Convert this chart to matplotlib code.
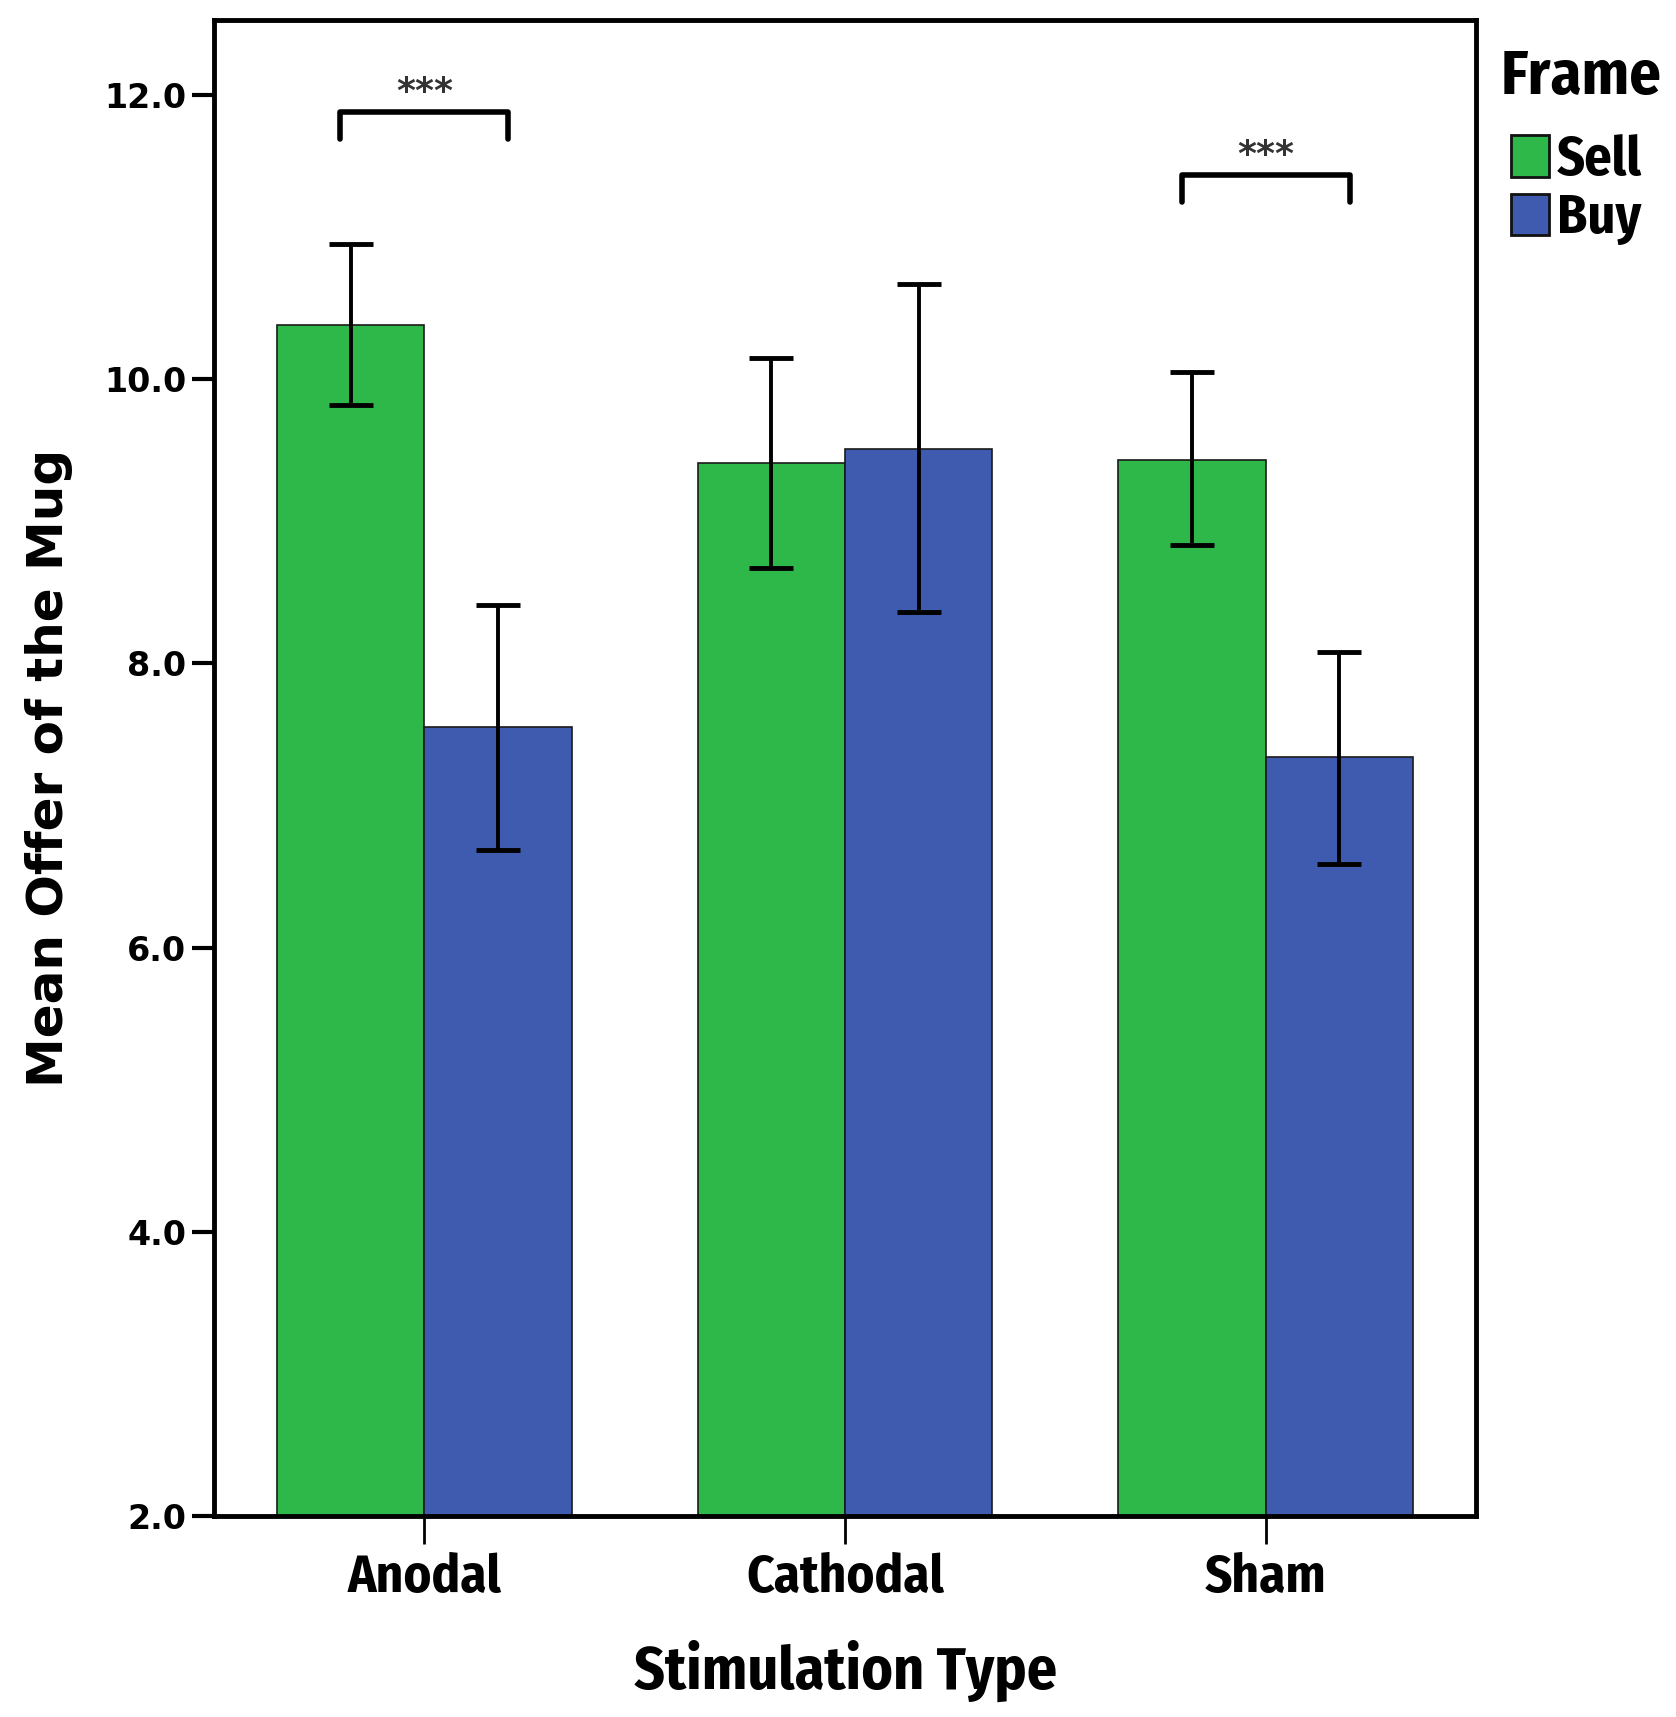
import numpy as np
import matplotlib
matplotlib.use('Agg')
import matplotlib.pyplot as plt

narrow = ['Fira Sans Condensed', 'DejaVu Sans']

stim = ['Anodal', 'Cathodal', 'Sham']
frames = ['Sell', 'Buy']
sell_mean = [10.38, 9.41, 9.43]
sell_hi = [10.95, 10.15, 10.05]
sell_lo = [9.82, 8.67, 8.83]
buy_mean = [7.55, 9.51, 7.34]
buy_hi = [8.41, 10.67, 8.08]
buy_lo = [6.69, 8.36, 6.59]
yticks = [2.0, 4.0, 6.0, 8.0, 10.0, 12.0]
sig_groups = [0, 2]
sig_bar_y = [11.88, 11.44]
sig_text = ['***', '***']

green = '#2fb84a'
blue = '#3f5bb0'

fig = plt.figure(figsize=(16.76, 17.17), dpi=100)
ax = fig.add_axes([0.1277, 0.1171, 0.7530, 0.8714])

x = np.arange(len(stim))
w = 0.35
sell_err = [np.array(sell_mean) - np.array(sell_lo), np.array(sell_hi) - np.array(sell_mean)]
buy_err = [np.array(buy_mean) - np.array(buy_lo), np.array(buy_hi) - np.array(buy_mean)]

ax.bar(x - w/2, np.array(sell_mean) - 2, w, bottom=2, color=green, edgecolor='#1a1a1a', linewidth=1.2, label=frames[0])
ax.bar(x + w/2, np.array(buy_mean) - 2, w, bottom=2, color=blue, edgecolor='#1a1a1a', linewidth=1.2, label=frames[1])
ax.errorbar(x - w/2, sell_mean, yerr=sell_err, fmt='none', ecolor='black', elinewidth=2.8, capsize=16, capthick=3.5)
ax.errorbar(x + w/2, buy_mean, yerr=buy_err, fmt='none', ecolor='black', elinewidth=2.8, capsize=16, capthick=3.5)

# significance brackets
for g, yb, t in zip(sig_groups, sig_bar_y, sig_text):
    ax.plot([g - 0.2, g - 0.2, g + 0.2, g + 0.2], [yb - 0.19, yb, yb, yb - 0.19],
            color='black', lw=4, solid_capstyle='round', solid_joinstyle='round')
    ax.text(g, yb + 0.02, t, ha='center', va='bottom', fontsize=26, fontweight='bold', color='#333333')

ax.set_xlim(-0.5, 2.5)
ax.set_ylim(2.0, 12.53)
ax.set_yticks(yticks)
ax.set_yticklabels(['%.1f' % v for v in yticks], fontsize=24, fontweight='bold')
ax.set_xticks(x)
ax.set_xticklabels(stim, fontsize=38, fontweight='bold', family=narrow)
for s in ax.spines.values():
    s.set_linewidth(3.5)
ax.tick_params(axis='y', length=16, width=3, pad=4)
ax.tick_params(axis='x', length=20, width=2, pad=6)

ax.set_ylabel('Mean Offer of the Mug', fontsize=36, fontweight='bold', labelpad=22)
ax.set_xlabel('Stimulation Type', fontsize=43, fontweight='bold', family=narrow, labelpad=26)

handles, labels = ax.get_legend_handles_labels()
leg = fig.legend(handles, labels, loc='center left', bbox_to_anchor=(0.9015, 0.8895),
                 frameon=False, handlelength=0.7, handleheight=0.8,
                 handletextpad=0.15, labelspacing=0.1, borderpad=0, borderaxespad=0,
                 prop={'family': narrow, 'weight': 'bold', 'size': 39})
for p in leg.get_patches():
    p.set_edgecolor('#111111')
    p.set_linewidth(2)
fig.text(0.8956, 0.955, 'Frame', ha='left', va='center', fontsize=45, fontweight='bold', family=narrow)

fig.savefig('out.png', dpi=100)
